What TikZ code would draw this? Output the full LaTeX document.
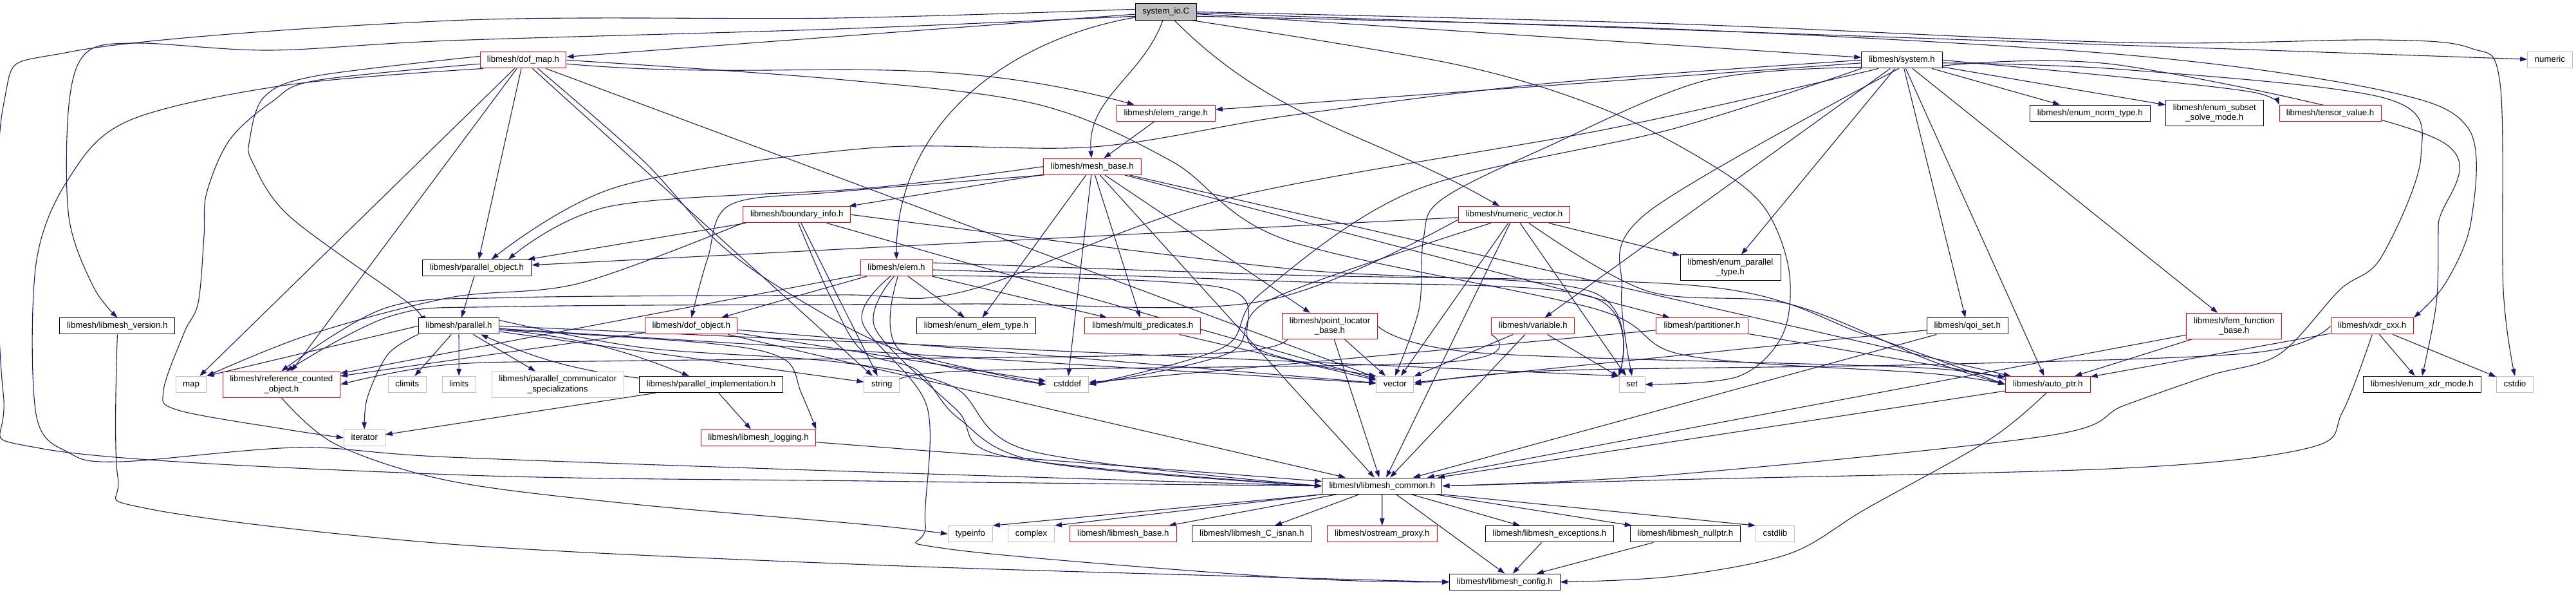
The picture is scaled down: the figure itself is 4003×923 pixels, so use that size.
\documentclass[tikz,border=0pt]{standalone}
\usepackage{fontspec}
\setmainfont{Liberation Sans}
\usetikzlibrary{arrows.meta,backgrounds}
\definecolor{DoxBlue}{RGB}{25,25,112}
\definecolor{DoxRed}{RGB}{255,0,0}
\definecolor{DoxGray}{RGB}{191,191,191}

\begin{document}
\begin{tikzpicture}[x=0.02cm,y=0.02cm,
    hdr/.style={rectangle,draw,fill=white,line width=0.02cm,inner sep=0pt,
      font=\fontsize{7.55}{8.7}\selectfont,minimum height=0.506cm,
      text height=0.19cm,text depth=0.055cm},
    hdrtwo/.style={rectangle,draw,fill=white,line width=0.02cm,inner sep=0pt,
      font=\fontsize{7.55}{8.7}\selectfont,minimum height=0.8cm,align=center},
    trunc/.style={draw=DoxRed},
    whole/.style={draw=black},
    stdhdr/.style={draw=DoxGray},
    root/.style={draw=black,fill=DoxGray},
    inc/.style={draw=DoxBlue,line width=0.022cm,-{Triangle[length=0.22cm,width=0.15cm]}}]
  \useasboundingbox (0,0) rectangle (4003,-923);

  % rows of headers, top to bottom
  \node[hdr,root,minimum width=1.90cm] (sysio) at (1811.8,-18.5) {system\_io.C};
  \node[hdr,trunc,minimum width=2.68cm] (dofmap) at (813,-93.3) {libmesh/dof\_map.h};
  \node[hdr,whole,minimum width=2.51cm] (system) at (2955.5,-93.3) {libmesh/system.h};
  \node[hdr,stdhdr,minimum width=1.39cm] (numeric) at (3962.4,-93.3) {numeric};
  \node[hdr,trunc,minimum width=3.06cm] (elemrange) at (1811.8,-175.7) {libmesh/elem\_range.h};
  \node[hdr,whole,minimum width=3.74cm] (normtype) at (3247.8,-175.7) {libmesh/enum\_norm\_type.h};
  \node[hdrtwo,whole,minimum width=3.03cm] (subset) at (3441.3,-175.8) {libmesh/enum\_subset\\\_solve\_mode.h};
  \node[hdr,trunc,minimum width=3.16cm] (tensor) at (3621,-175.7) {libmesh/tensor\_value.h};
  \node[hdr,trunc,minimum width=3.04cm] (meshbase) at (1697.3,-258.7) {libmesh/mesh\_base.h};
  \node[hdr,trunc,minimum width=3.34cm] (boundary) at (1238.3,-333.3) {libmesh/boundary\_info.h};
  \node[hdr,trunc,minimum width=3.46cm] (numvec) at (2353,-333.3) {libmesh/numeric\_vector.h};
  \node[hdr,whole,minimum width=3.40cm] (parobj) at (741,-416) {libmesh/parallel\_object.h};
  \node[hdr,trunc,minimum width=2.24cm] (elem) at (1393,-416) {libmesh/elem.h};
  \node[hdrtwo,whole,minimum width=3.12cm] (partype) at (2689,-415.7) {libmesh/enum\_parallel\\\_type.h};
  \node[hdr,whole,minimum width=3.58cm] (version) at (182.4,-506.3) {libmesh/libmesh\_version.h};
  \node[hdr,whole,minimum width=2.52cm] (parallel) at (713,-506.3) {libmesh/parallel.h};
  \node[hdr,trunc,minimum width=2.86cm] (dofobj) at (1074.4,-506.3) {libmesh/dof\_object.h};
  \node[hdr,whole,minimum width=3.70cm] (elemtype) at (1517,-506.3) {libmesh/enum\_elem\_type.h};
  \node[hdr,trunc,minimum width=3.60cm] (multipred) at (1775.8,-506.3) {libmesh/multi\_predicates.h};
  \node[hdrtwo,trunc,minimum width=2.96cm] (ploc) at (2066.5,-506.3) {libmesh/point\_locator\\\_base.h};
  \node[hdr,trunc,minimum width=2.58cm] (variable) at (2382.3,-506.3) {libmesh/variable.h};
  \node[hdr,trunc,minimum width=2.86cm] (partitioner) at (2645,-506.3) {libmesh/partitioner.h};
  \node[hdr,whole,minimum width=2.51cm] (qoiset) at (3057.3,-506.3) {libmesh/qoi\_set.h};
  \node[hdrtwo,trunc,minimum width=2.96cm] (femfunc) at (3471.7,-506.3) {libmesh/fem\_function\\\_base.h};
  \node[hdr,trunc,minimum width=2.57cm] (xdr) at (3686.2,-506.3) {libmesh/xdr\_cxx.h};
  \node[hdr,stdhdr,minimum width=0.96cm] (map) at (297,-597) {map};
  \node[hdrtwo,trunc,minimum width=3.65cm] (refcount) at (437.3,-597) {libmesh/reference\_counted\\\_object.h};
  \node[hdr,stdhdr,minimum width=1.17cm] (climits) at (632.8,-597) {climits};
  \node[hdr,stdhdr,minimum width=1.04cm] (limits) at (713.2,-597) {limits};
  \node[hdrtwo,stdhdr,minimum width=4.10cm] (commspec) at (866.8,-597) {libmesh/parallel\_communicator\\\_specializations};
  \node[hdr,whole,minimum width=4.48cm] (parimpl) at (1105,-597) {libmesh/parallel\_implementation.h};
  \node[hdr,stdhdr,minimum width=1.10cm] (string) at (1370.3,-597) {string};
  \node[hdr,stdhdr,minimum width=1.31cm] (cstddef) at (1658.7,-597) {cstddef};
  \node[hdr,stdhdr,minimum width=1.16cm] (vector) at (2167.8,-597) {vector};
  \node[hdr,stdhdr,minimum width=0.80cm] (set) at (2536,-597) {set};
  \node[hdr,trunc,minimum width=2.63cm] (autoptr) at (3182.3,-597) {libmesh/auto\_ptr.h};
  \node[hdr,whole,minimum width=3.65cm] (xdrmode) at (3763.8,-597) {libmesh/enum\_xdr\_mode.h};
  \node[hdr,stdhdr,minimum width=1.15cm] (cstdio) at (3908,-597) {cstdio};
  \node[hdr,stdhdr,minimum width=1.28cm] (iterator) at (566.3,-679.8) {iterator};
  \node[hdr,trunc,minimum width=3.57cm] (logging) at (1178.6,-679.8) {libmesh/libmesh\_logging.h};
  \node[hdr,whole,minimum width=3.73cm] (common) at (2147.7,-754.7) {libmesh/libmesh\_common.h};
  \node[hdr,stdhdr,minimum width=1.38cm] (typeinfo) at (1507.8,-829.3) {typeinfo};
  \node[hdr,stdhdr,minimum width=1.44cm] (complex) at (1602.5,-829.3) {complex};
  \node[hdr,trunc,minimum width=3.31cm] (lmbase) at (1745.3,-829.3) {libmesh/libmesh\_base.h};
  \node[hdr,whole,minimum width=3.70cm] (isnan) at (1945.3,-829.3) {libmesh/libmesh\_C\_isnan.h};
  \node[hdr,trunc,minimum width=3.41cm] (ostream) at (2147.8,-829.3) {libmesh/ostream\_proxy.h};
  \node[hdr,whole,minimum width=3.99cm] (exceptions) at (2407.8,-829.3) {libmesh/libmesh\_exceptions.h};
  \node[hdr,whole,minimum width=3.43cm] (nullptr) at (2618.8,-829.3) {libmesh/libmesh\_nullptr.h};
  \node[hdr,stdhdr,minimum width=1.20cm] (cstdlib) at (2758.5,-829.3) {cstdlib};
  \node[hdr,whole,minimum width=3.43cm] (config) at (2338.4,-903.8) {libmesh/libmesh\_config.h};

  \begin{pgfonlayer}{background}
    % system_io.C
    \foreach \t in {dofmap,system,numeric} \draw[inc] (sysio) -- (\t);
    \draw[inc] (sysio) to[out=-110,in=95] (meshbase);
    \draw[inc] (sysio) to[out=-170,in=90] (elem);
    \draw[inc] (sysio) to[out=-45,in=150] (numvec);
    \draw[inc] plot[smooth,tension=0.55] coordinates {(sysio.east) (2600,-37) (3300,-66) (3700,-62) (3840,-75) (3885,-130) (3890,-450) (cstdio.north)};
    \draw[inc] plot[smooth,tension=0.55] coordinates {(sysio.-8) (2600,-45) (3300,-85) (3700,-140) (3836,-200) (3840,-343) (3800,-440) (xdr.north east)};
    \draw[inc] plot[smooth,tension=0.55] coordinates {(sysio.-18) (2262,-100) (2486,-167) (2650,-250) (2740,-320) (2780,-420) (2770,-520) (2700,-585) (set.east)};
    \draw[inc] plot[smooth,tension=0.55] coordinates {(sysio.188) (1300,-45) (700,-63) (420,-78) (214,-67) (134,-82) (107,-163) (107,-337) (145,-445) (version.north)};
    \draw[inc] plot[smooth,tension=0.55] coordinates {(sysio.175) (1300,-28) (700,-32) (112,-80) (5,-165) (5,-610) (67,-697) (700,-737) (1350,-747) (common.west)};

    % dof_map.h
    \draw[inc] (dofmap) to[out=-5,in=165] (elemrange);
    \foreach \t in {parobj,refcount,map,vector,string} \draw[inc] (dofmap) -- (\t);
    \draw[inc] plot[smooth,tension=0.55] coordinates {(dofmap.east) (1300,-123) (1612,-162) (1820,-250) (2000,-373) (2480,-480) (2620,-552) (3000,-580) (autoptr.west)};
    \draw[inc] plot[smooth,tension=0.55] coordinates {(dofmap.-30) (1000,-250) (1120,-380) (1250,-470) (1400,-545) (cstddef.west)};
    \draw[inc] plot[smooth,tension=0.55] coordinates {(dofmap.175) (491,-118) (411,-150) (388,-217) (393,-253) (451,-337) (634,-470) (parallel.north west)};
    \draw[inc] plot[smooth,tension=0.55] coordinates {(dofmap.185) (491,-125) (424,-157) (357,-217) (321,-300) (317,-367) (308,-470) (286,-517) (254,-607) (277,-637) (446,-667) (iterator.west)};
    \draw[inc] plot[smooth,tension=0.55] coordinates {(dofmap.192) (446,-132) (201,-187) (107,-277) (56,-410) (56,-643) (107,-703) (187,-717) (464,-695) (700,-710) (1350,-733) (common.west)};

    % system.h
    \foreach \t in {elemrange,normtype,subset,partype,variable,qoiset,femfunc,autoptr} \draw[inc] (system) -- (\t);
    \draw[inc] plot[smooth,tension=0.55] coordinates {(system.east) (3300,-120) (3500,-143) (tensor.north west)};
    \draw[inc] plot[smooth,tension=0.55] coordinates {(system.west) (2400,-130) (2000,-180) (1700,-228) (1350,-230) (960,-290) (parobj.30)};
    \draw[inc] plot[smooth,tension=0.55] coordinates {(system.200) (2500,-200) (1900,-310) (1500,-452) (1300,-458) (800,-462) (600,-478) (refcount.north)};
    \draw[inc] plot[smooth,tension=0.55] coordinates {(system.-4) (3300,-108) (3708,-153) (3762,-243) (3700,-400) (3636,-450) (3542,-550) (3434,-583) (3300,-630) (3180,-677) (2600,-737) (common.east)};
    \draw[inc] plot[smooth,tension=0.55] coordinates {(system.-8) (3300,-102) (3789,-217) (3789,-350) (3786,-470) (xdrmode.north)};
    \draw[inc] plot[smooth,tension=0.55] coordinates {(system.south west) (2600,-200) (2200,-295) (1960,-455) (1900,-540) (cstddef.east)};
    \draw[inc] plot[smooth,tension=0.55] coordinates {(system.-110) (2560,-330) (2520,-450) (set.north)};
    \draw[inc] plot[smooth,tension=0.55] coordinates {(system.190) (2650,-125) (2400,-230) (2240,-310) (2212,-370) (2205,-480) (vector.north)};

    % elem_range.h
    \draw[inc] (elemrange) -- (meshbase);

    % mesh_base.h
    \foreach \t in {boundary,elemtype,multipred,ploc,partitioner,cstddef,autoptr,common} \draw[inc] (meshbase) -- (\t);
    \draw[inc] plot[smooth,tension=0.55] coordinates {(meshbase.west) (1350,-292) (950,-320) (parobj.15)};
    \draw[inc] plot[smooth,tension=0.55] coordinates {(meshbase.190) (1300,-298) (1135,-318) (1100,-400) (dofobj.north)};

    % boundary_info.h
    \foreach \t in {parobj,vector,string} \draw[inc] (boundary) -- (\t);
    \draw[inc] plot[smooth,tension=0.55] coordinates {(boundary.south west) (900,-440) (700,-462) (480,-520) (map.north east)};
    \draw[inc] plot[smooth,tension=0.55] coordinates {(boundary.east) (2000,-417) (2470,-452) (set.north west)};
    \draw[inc] plot[smooth,tension=0.55] coordinates {(boundary.-80) (1290,-460) (1340,-545) (1425,-575) (1490,-650) (1620,-718) (common.west)};

    % numeric_vector.h
    \foreach \t in {parobj,partype,common,vector,set} \draw[inc] (numvec) -- (\t);
    \draw[inc] plot[smooth,tension=0.55] coordinates {(numvec.185) (1960,-468) (1500,-472) (800,-476) (610,-490) (refcount.70)};
    \draw[inc] plot[smooth,tension=0.55] coordinates {(numvec.-30) (2560,-452) (2780,-472) (3000,-560) (autoptr.west)};
    \draw[inc] plot[smooth,tension=0.55] coordinates {(numvec.200) (1975,-465) (1910,-548) (cstddef.east)};

    % parallel_object.h
    \draw[inc] (parobj) -- (parallel);

    % elem.h
    \foreach \t in {dofobj,refcount,elemtype,multipred} \draw[inc] (elem) -- (\t);
    \draw[inc] plot[smooth,tension=0.55] coordinates {(elem.-105) (1360,-510) (1487,-637) (1568,-710) (common.west)};
    \draw[inc] plot[smooth,tension=0.55] coordinates {(elem.-125) (1340,-500) (1440,-630) (1438,-815) (1470,-852) (2000,-897) (config.west)};
    \draw[inc] plot[smooth,tension=0.55] coordinates {(elem.8) (2000,-427) (2650,-445) (2900,-520) (autoptr.west)};
    \draw[inc] plot[smooth,tension=0.55] coordinates {(elem.-3) (2000,-437) (2470,-460) (set.north west)};
    \draw[inc] plot[smooth,tension=0.55] coordinates {(elem.-12) (1900,-447) (1950,-540) (vector.north west)};
    \draw[inc] plot[smooth,tension=0.55] coordinates {(elem.-80) (1400,-545) (cstddef.west)};

    % libmesh_version.h
    \draw[inc] plot[smooth,tension=0.55] coordinates {(version.south) (183,-740) (230,-790) (700,-845) (1350,-877) (2000,-897) (config.west)};

    % parallel.h
    \foreach \t in {climits,limits,commspec,string,vector} \draw[inc] (parallel) -- (\t);
    \draw[inc] (parallel.west) -- (map.north east);
    \draw[inc] (parallel.east) -- (set.north west);
    \draw[inc] (parallel) to[bend left=8] (parimpl);
    \draw[inc] plot[smooth,tension=0.55] coordinates {(parallel.south west) (603,-550) (571,-617) (iterator.north)};
    \draw[inc] plot[smooth,tension=0.55] coordinates {(parallel.-5) (1100,-533) (1217,-557) (1245,-610) (logging.north east)};
    \draw[inc] plot[smooth,tension=0.55] coordinates {(parallel.8) (1000,-540) (1300,-562) (1480,-600) (1600,-700) (common.west)};

    % parallel_implementation.h
    \draw[inc] (parimpl) to[bend left=8] (parallel);
    \draw[inc] (parimpl) -- (iterator);
    \draw[inc] (parimpl) -- (logging);

    % dof_object.h
    \foreach \t in {refcount,common,cstddef,vector} \draw[inc] (dofobj) -- (\t);

    % multi_predicates.h
    \draw[inc] (multipred) -- (vector);

    % point_locator_base.h
    \foreach \t in {common,vector} \draw[inc] (ploc) -- (\t);
    \draw[inc] plot[smooth,tension=0.55] coordinates {(ploc.east) (2300,-548) (3000,-572) (autoptr.west)};
    \draw[inc] plot[smooth,tension=0.55] coordinates {(ploc.west) (1900,-548) (1000,-560) (700,-566) (refcount.east)};

    % variable.h
    \foreach \t in {vector,common,set} \draw[inc] (variable) -- (\t);
    \draw[inc] plot[smooth,tension=0.55] coordinates {(variable.south west) (2250,-562) (1500,-576) (string.east)};

    % partitioner.h, qoi_set.h, fem_function_base.h
    \foreach \t in {autoptr,cstddef} \draw[inc] (partitioner) -- (\t);
    \foreach \t in {vector,common} \draw[inc] (qoiset) -- (\t);
    \foreach \t in {autoptr,common} \draw[inc] (femfunc) -- (\t);

    % xdr_cxx.h
    \foreach \t in {xdrmode,cstdio,autoptr} \draw[inc] (xdr) -- (\t);
    \draw[inc] plot[smooth,tension=0.55] coordinates {(xdr.south) (3640,-640) (3590,-695) (3300,-727) (2600,-745) (common.east)};
    \draw[inc] plot[smooth,tension=0.55] coordinates {(xdr.west) (3500,-548) (3000,-566) (2400,-576) (vector.east)};

    % reference_counted_object.h
    \draw[inc] plot[smooth,tension=0.55] coordinates {(refcount.south) (522,-690) (700,-747) (985,-783) (1350,-815) (typeinfo.west)};

    % libmesh_logging.h, auto_ptr.h
    \draw[inc] (logging) -- (common);
    \draw[inc] (autoptr) -- (common);
    \draw[inc] plot[smooth,tension=0.55] coordinates {(autoptr.-100) (3091,-683) (2900,-790) (2780,-860) (2600,-895) (config.east)};

    % libmesh_common.h
    \foreach \t in {lmbase,isnan,ostream,exceptions,nullptr} \draw[inc] (common) -- (\t);
    \draw[inc] (common.south west) -- (typeinfo.north east);
    \draw[inc] (common.south west) -- (complex.north east);
    \draw[inc] (common.south east) -- (cstdlib.north west);
    \draw[inc] ([xshift=0.44cm]common.south) -- (config.north);

    % into libmesh_config.h
    \draw[inc] (exceptions) -- (config);
    \draw[inc] (nullptr) -- (config);
  \end{pgfonlayer}
\end{tikzpicture}
\end{document}
